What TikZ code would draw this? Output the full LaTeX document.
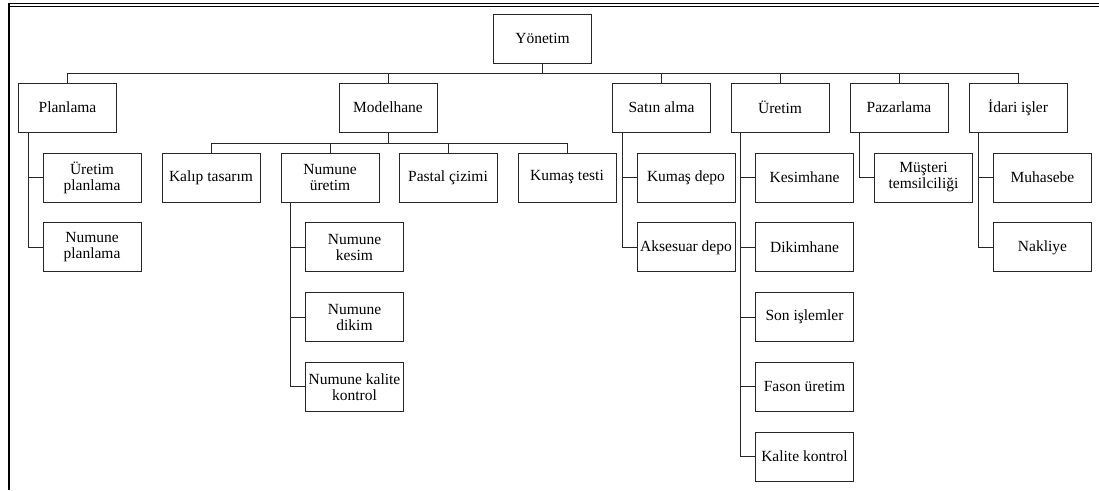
\documentclass[tikz,border=0pt]{standalone}
\usepackage{fontspec}
\setmainfont{Liberation Serif}

\tikzset{
  birim/.style={draw=black!85, line width=1pt, minimum width=98pt, minimum height=49pt,
    inner sep=0pt, align=center, font=\fontsize{15.5}{16}\selectfont},
  baglanti/.style={draw=black!85, line width=1pt}
}

\begin{document}
\begin{tikzpicture}[x=1pt,y=-1pt]
\useasboundingbox (0,0) rectangle (1099,490);

% ===== Çerçeve =====
\draw[line width=1pt] (9,3) -- (1099,3);
\draw[line width=1pt] (9,6.5) -- (1099,6.5);
\draw[line width=1.2pt] (9,3) -- (9,490);

% ===== Yönetim =====
\node[birim] (yon) at (542.5,38.5) {Yönetim};

% ===== Birinci seviye =====
\node[birim] (plan)   at (67.5,107.5)  {Planlama};
\node[birim] (model)  at (388,107.5)   {Modelhane};
\node[birim] (satin)  at (661.5,107.5) {Satın alma};
\node[birim] (uret)   at (780,107.5)   {Üretim};
\node[birim] (pazar)  at (899,107.5)   {Pazarlama};
\node[birim] (idari)  at (1018,107.5)  {İdari işler};

\foreach \b in {plan,model,satin,uret,pazar,idari}
  \draw[baglanti] (yon.south) -- ++(0,10) -| (\b.north);

% ===== Modelhane altı =====
\node[birim] (kalip)   at (211,177.5) {Kalıp tasarım};
\node[birim] (nuret)   at (330,177.5) {Numune\\üretim};
\node[birim] (pastal)  at (448,177.5) {Pastal çizimi};
\node[birim] (kumtest) at (567,177.5) {Kumaş testi};

\foreach \b in {kalip,nuret,pastal,kumtest}
  \draw[baglanti] (model.south) -- ++(0,10.5) -| (\b.north);

% ===== Dikey kollar =====
\node[birim] (uplan)  at (92,177.5)  {Üretim\\planlama};
\node[birim] (nplan)  at (92,247.3)  {Numune\\planlama};

\node[birim] (nkesim) at (354.5,247.3) {Numune\\kesim};
\node[birim] (ndikim) at (354.5,317)   {Numune\\dikim};
\node[birim] (nkalite) at (354.5,386.8) {Numune kalite\\kontrol};

\node[birim] (kdepo)  at (686,177.5) {Kumaş depo};
\node[birim] (adepo)  at (686,247.3) {Aksesuar depo};

\node[birim] (kesim)  at (804.5,177.5) {Kesimhane};
\node[birim] (dikim)  at (804.5,247.3) {Dikimhane};
\node[birim] (son)    at (804.5,317)   {Son işlemler};
\node[birim] (fason)  at (804.5,386.8) {Fason üretim};
\node[birim] (kalite) at (804.5,456.5) {Kalite kontrol};

\node[birim] (musteri) at (923.5,177.5) {Müşteri\\temsilciliği};

\node[birim] (muhas)  at (1042.5,177.5) {Muhasebe};
\node[birim] (nakl)   at (1042.5,247.3) {Nakliye};

\foreach \u/\c in {plan/uplan,plan/nplan,nuret/nkesim,nuret/ndikim,nuret/nkalite,
    satin/kdepo,satin/adepo,uret/kesim,uret/dikim,uret/son,uret/fason,uret/kalite,
    pazar/musteri,idari/muhas,idari/nakl}
  \draw[baglanti] ([xshift=10pt]\u.south west) |- (\c.west);

\end{tikzpicture}
\end{document}
